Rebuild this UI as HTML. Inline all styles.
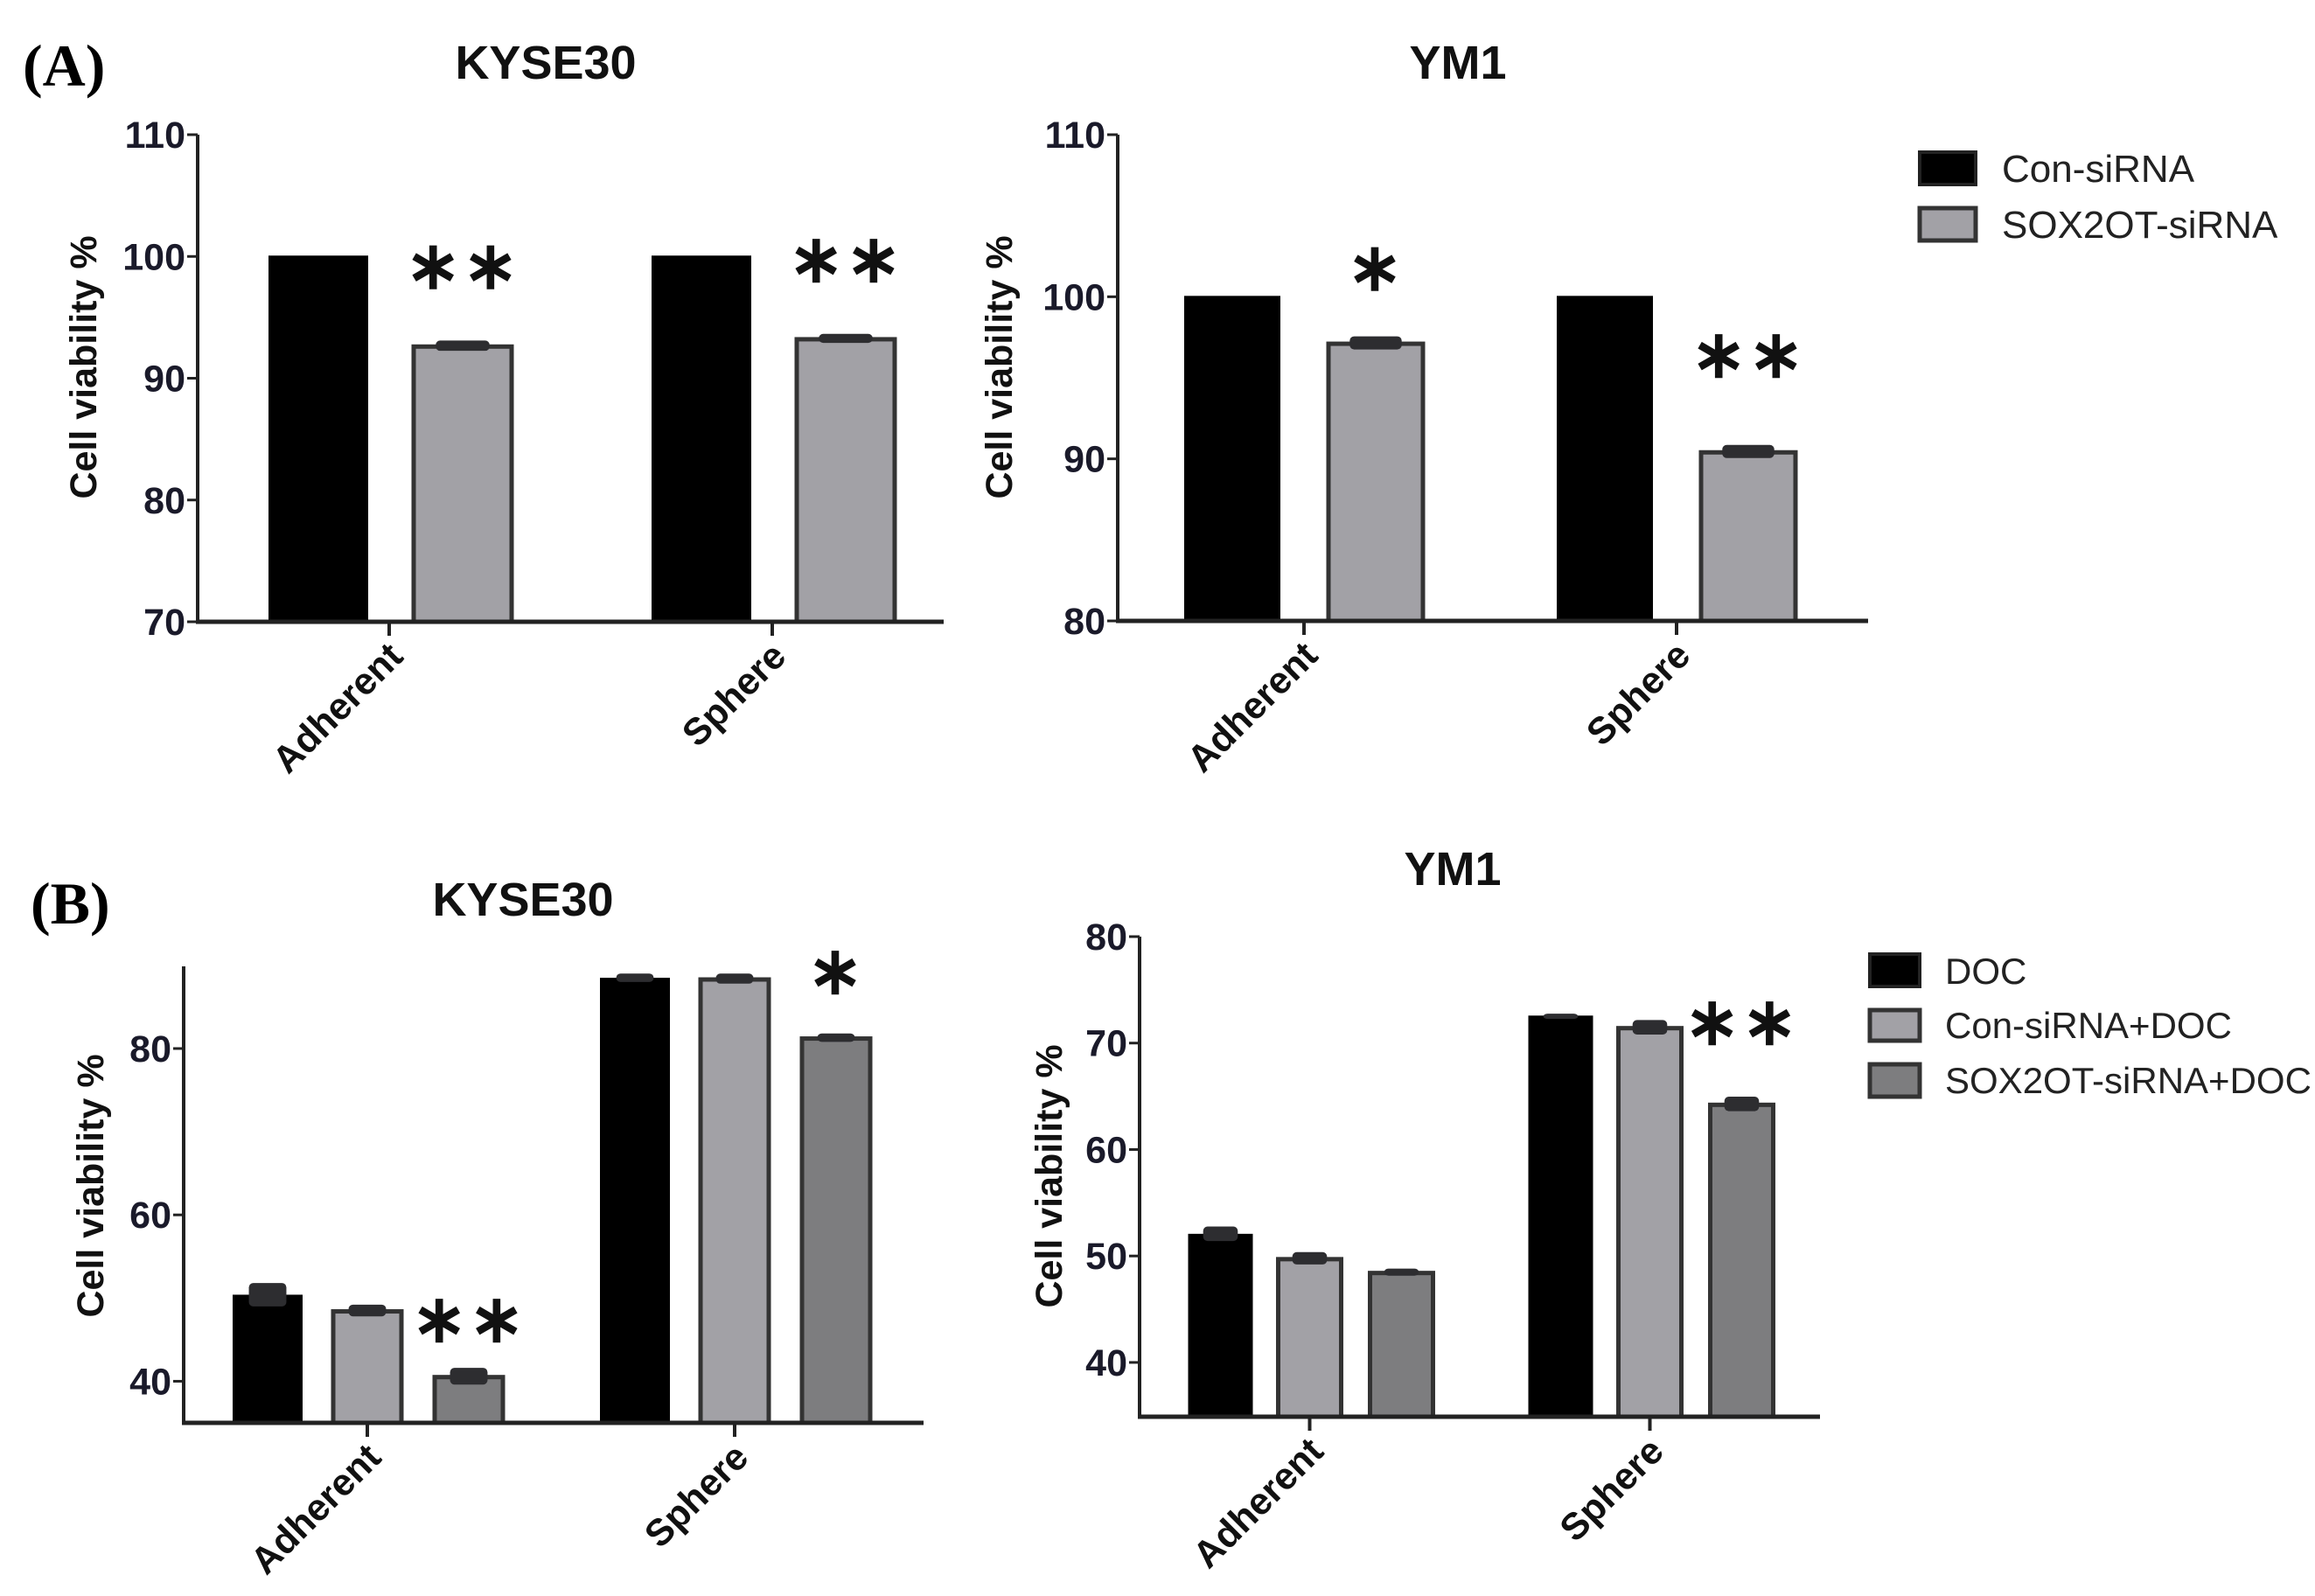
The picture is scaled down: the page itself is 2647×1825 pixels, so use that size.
<!DOCTYPE html>
<html><head><meta charset="utf-8"><style>
html,body{margin:0;padding:0;background:#fff;}
svg{display:block;}
text{font-family:"Liberation Sans",Arial,sans-serif;}
</style></head><body>
<svg id="fig" width="2647" height="1825" viewBox="0 0 2647 1825" xmlns="http://www.w3.org/2000/svg">
<text x="26" y="98" font-weight="bold" font-size="68" style="font-family:'Liberation Serif',serif">(A)</text>
<text x="35" y="1056" font-weight="bold" font-size="68" style="font-family:'Liberation Serif',serif">(B)</text>
<g id="legendA">
<rect x="2195" y="174" width="64" height="37" fill="#000" stroke="#222" stroke-width="4"/>
<text x="2289" y="208" font-size="44" fill="#222">Con-siRNA</text>
<rect x="2195" y="238" width="64" height="37" fill="#a2a1a6" stroke="#333" stroke-width="5"/>
<text x="2289" y="272" font-size="44" fill="#222">SOX2OT-siRNA</text>
</g>
<g id="legendB">
<rect x="2138" y="1091" width="57" height="37" fill="#000" stroke="#222" stroke-width="4"/>
<text x="2224" y="1125" font-size="42" fill="#222">DOC</text>
<rect x="2138" y="1155" width="57" height="35" fill="#a2a1a6" stroke="#333" stroke-width="5"/>
<text x="2224" y="1187" font-size="42" fill="#222">Con-siRNA+DOC</text>
<rect x="2138" y="1217" width="57" height="37" fill="#7d7d7f" stroke="#333" stroke-width="5"/>
<text x="2224" y="1250" font-size="42" fill="#222">SOX2OT-siRNA+DOC</text>
</g>
</svg>
<script>
// ---- data ----
const categories = ["Adherent", "Sphere"];
const aKyseTicks = [70, 80, 90, 100, 110];
const aKyseCon = [100, 100];
const aKyseSox = [92.6, 93.2];
const aKyseSoxErr = [0.35, 0.3];
const aKyseSig = ["**", "**"];
const aYmTicks = [80, 90, 100, 110];
const aYmCon = [100, 100];
const aYmSox = [97.1, 90.4];
const aYmSoxErr = [0.35, 0.35];
const aYmSig = ["*", "**"];
const bKyseTicks = [40, 60, 80];
const bKyseDoc = [50.3, 88.4];
const bKyseDocErr = [1.3, 0.4];
const bKyseCon = [48.4, 88.3];
const bKyseConErr = [0.6, 0.5];
const bKyseSox = [40.5, 81.2];
const bKyseSoxErr = [0.9, 0.4];
const bKyseSig = ["**", "*"];
const bYmTicks = [40, 50, 60, 70, 80];
const bYmDoc = [52.0, 72.5];
const bYmDocErr = [0.6, 0.1];
const bYmCon = [49.7, 71.4];
const bYmConErr = [0.5, 0.6];
const bYmSox = [48.4, 64.2];
const bYmSoxErr = [0.25, 0.6];
const bYmSig = ["", "**"];

const NS = "http://www.w3.org/2000/svg";
const svg = document.getElementById('fig');
function mk(tag, attrs, parent) {
  const e = document.createElementNS(NS, tag);
  for (const k in attrs) e.setAttribute(k, attrs[k]);
  (parent || svg).appendChild(e);
  return e;
}
const FILLS = ["#000", "#a2a1a6", "#7d7d7f"];

function panel(cfg) {
  const g = mk('g', {});
  
  
  const y = v => cfg.y0 - (v - cfg.vmin) / (cfg.vmax - cfg.vmin) * (cfg.y0 - cfg.y1);
  const t = mk('text', {x: cfg.titleX, y: cfg.titleY, 'font-size': 54, 'font-weight': 'bold', 'text-anchor': 'middle', fill: '#111'}, g);
  t.textContent = cfg.title;
  
  
  const ya = mk('line', {x1: cfg.x0, x2: cfg.x0, y1: cfg.yTop, y2: cfg.y0, stroke: '#222', 'stroke-width': 4}, g);
  
  
  cfg.ticks.forEach(v => {
    const tk = mk('line', {x1: cfg.x0 - 12, x2: cfg.x0, y1: y(v), y2: y(v), stroke: '#222', 'stroke-width': 3}, g);
    
    
    const tl = mk('text', {x: cfg.x0 - 14, y: y(v) + 15, 'font-size': 43, 'font-weight': 'bold', 'text-anchor': 'end', fill: '#1a1a2a'}, g);
    tl.textContent = v;
    
    
  });
  const yt = mk('text', {x: 0, y: 0, 'font-size': 43, 'font-weight': 'bold', 'text-anchor': 'middle', fill: '#111', transform: `translate(${cfg.ytX},${cfg.ytY}) rotate(-90)`}, g);
  yt.textContent = 'Cell viability %';
  
  
  categories.forEach((c, i) => {
    const cx = cfg.x0 + (i + 0.5) * cfg.step;
    cfg.series.forEach((s, j) => {
      const bx = cx + cfg.offsets[j] - cfg.bw / 2;
      const top = y(s.vals[i]);
      const r = mk('rect', {x: bx, y: top, width: cfg.bw, height: cfg.y0 - top, fill: FILLS[j], stroke: j === 0 ? '#000' : '#333', 'stroke-width': j === 0 ? 2 : 5}, g);
      
      
      if (s.err && s.err[i] > 0) {
        const e1 = y(s.vals[i] + s.err[i]), e2 = y(s.vals[i] - s.err[i]);
        const cw = cfg.bw * 0.55;
        const eb = mk('rect', {x: bx + cfg.bw / 2 - cw / 2, y: e1 - 2, width: cw, height: Math.max(e2 - e1, 4) + 2, rx: 5, fill: '#2d2d30'}, g);
        
        
      }
    });
    const sig = cfg.sig[i];
    if (sig) {
      const j = cfg.series.length - 1;
      const s = cfg.series[j];
      const st = mk('text', {x: cx + cfg.offsets[j], y: y(s.vals[i] + (s.err ? s.err[i] : 0)) - cfg.sigGap[i], 'font-size': 76, 'font-weight': 'bold', 'text-anchor': 'middle', fill: '#111', 'letter-spacing': 2}, g);
      st.textContent = sig.replace(/\*/g, '\u2217');
      
      
    }
    const xt = mk('line', {x1: cx, x2: cx, y1: cfg.y0, y2: cfg.y0 + 16, stroke: '#222', 'stroke-width': 4}, g);
    
    
    const xl = mk('text', {x: 0, y: 0, 'font-size': 43, 'font-weight': 'bold', 'text-anchor': 'end', fill: '#111', transform: `translate(${cx + 18},${cfg.y0 + 42}) rotate(-45)`}, g);
    xl.textContent = c;
    
    
  });
  const xa = mk('line', {x1: cfg.x0 - 2, x2: cfg.xEnd, y1: cfg.y0, y2: cfg.y0, stroke: '#222', 'stroke-width': 5}, g);
  
  
}

panel({name: 'chart-a-kyse30', title: 'KYSE30', titleX: 624, titleY: 90, x0: 226, xEnd: 1079, step: 438, y0: 711, y1: 154, yTop: 154, vmin: 70, vmax: 110, ticks: aKyseTicks, bw: 112, offsets: [-81, 84], ytX: 110, ytY: 420, sig: aKyseSig, sigGap: [62, 62],
  series: [{key: 'con-sirna', vals: aKyseCon}, {key: 'sox2ot-sirna', vals: aKyseSox, err: aKyseSoxErr}]});
panel({name: 'chart-a-ym1', title: 'YM1', titleX: 1667, titleY: 90, x0: 1278, xEnd: 2136, step: 426, y0: 710, y1: 154, yTop: 154, vmin: 80, vmax: 110, ticks: aYmTicks, bw: 108, offsets: [-82, 82], ytX: 1157, ytY: 420, sig: aYmSig, sigGap: [55, 80],
  series: [{key: 'con-sirna', vals: aYmCon}, {key: 'sox2ot-sirna', vals: aYmSox, err: aYmSoxErr}]});
panel({name: 'chart-b-kyse30', title: 'KYSE30', titleX: 598, titleY: 1047, x0: 210, xEnd: 1056, step: 420, y0: 1627, y1: 1101, yTop: 1105, vmin: 35, vmax: 90.3, ticks: bKyseTicks, bw: 78, offsets: [-114, 0, 116], ytX: 118, ytY: 1356, sig: bKyseSig, sigGap: [32, 48],
  series: [{key: 'doc', vals: bKyseDoc, err: bKyseDocErr}, {key: 'con-sirna-doc', vals: bKyseCon, err: bKyseConErr}, {key: 'sox2ot-sirna-doc', vals: bKyseSox, err: bKyseSoxErr}]});
panel({name: 'chart-b-ym1', title: 'YM1', titleX: 1661, titleY: 1012, x0: 1303, xEnd: 2081, step: 389, y0: 1620, y1: 1071, yTop: 1071, vmin: 34.9, vmax: 80, ticks: bYmTicks, bw: 72, offsets: [-102, 0, 105], ytX: 1214, ytY: 1345, sig: bYmSig, sigGap: [20, 62],
  series: [{key: 'doc', vals: bYmDoc, err: bYmDocErr}, {key: 'con-sirna-doc', vals: bYmCon, err: bYmConErr}, {key: 'sox2ot-sirna-doc', vals: bYmSox, err: bYmSoxErr}]});
</script>
</body></html>
